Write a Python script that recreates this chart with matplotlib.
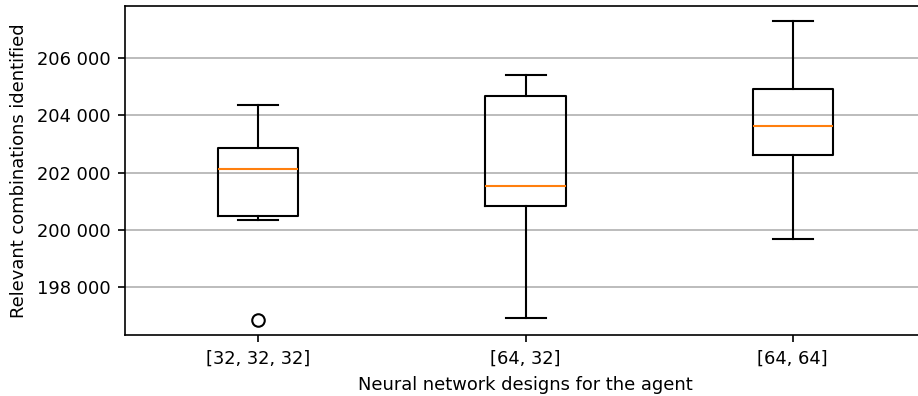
import matplotlib
matplotlib.use("Agg")
import matplotlib.pyplot as plt
from matplotlib.ticker import FuncFormatter

# designs compared
designs = ["[32, 32, 32]", "[64, 32]", "[64, 64]"]

# box statistics
whis_low = [200365, 196932, 199693]
q1 = [200504, 200842, 202616]
medians = [202139, 201548, 203635]
q3 = [202858, 204654, 204922]
whis_high = [204365, 205384, 207297]
fliers = [[196864], [], []]

stats = []
for i in range(len(designs)):
    stats.append(dict(label=designs[i], whislo=whis_low[i], q1=q1[i], med=medians[i],
                      q3=q3[i], whishi=whis_high[i], fliers=fliers[i]))

plt.rcParams["font.size"] = 8.6

fig, ax = plt.subplots(figsize=(6.12, 2.64), dpi=150)
# right spine sits just past the image edge in the reference
fig.subplots_adjust(left=0.136, right=1.009, top=0.986, bottom=0.154)

ax.bxp(stats)
ax.yaxis.grid(True)
ax.set_axisbelow(True)
ax.yaxis.set_major_formatter(FuncFormatter(lambda v, p: f"{v:,.0f}".replace(",", " ")))

ax.set_xlabel("Neural network designs for the agent")
ax.set_ylabel("Relevant combinations identified")

plt.savefig("out.png", dpi=150)
